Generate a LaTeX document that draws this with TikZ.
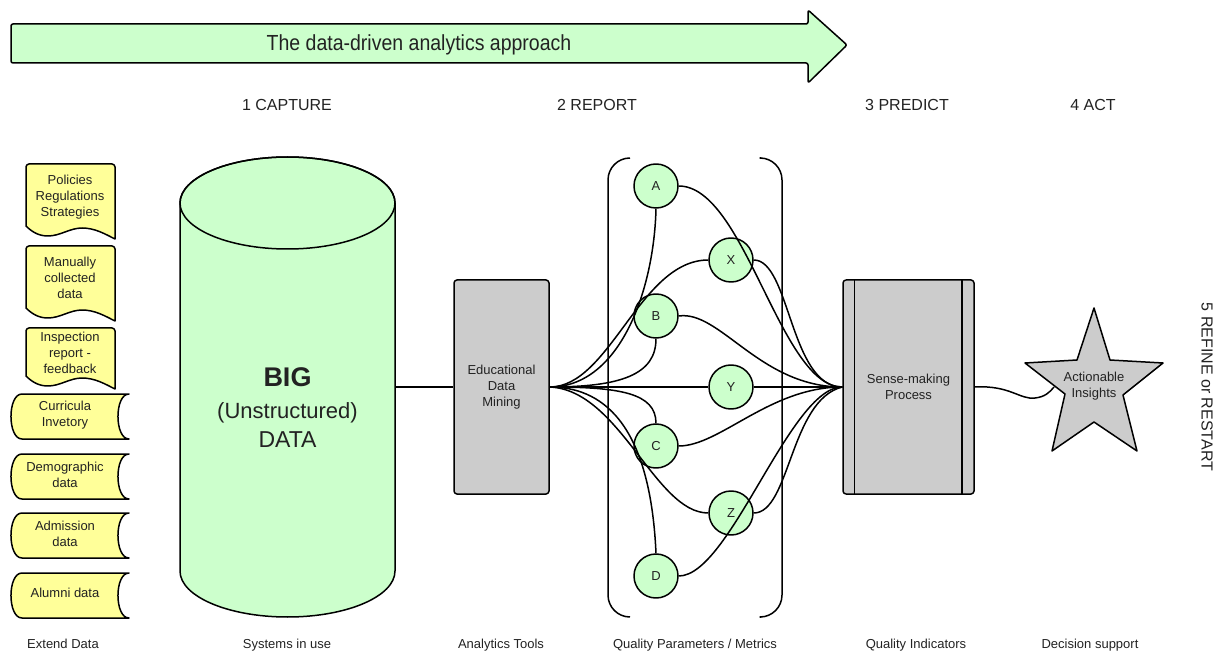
\documentclass[tikz,border=0pt]{standalone}
\usepackage{fontspec}
\setmainfont{Liberation Sans}
\definecolor{mint}{HTML}{CCFFCC}
\definecolor{lemon}{HTML}{FFFF99}
\definecolor{boxgrey}{HTML}{CCCCCC}
\definecolor{ink}{HTML}{222222}
\newcommand{\fs}[2]{\fontsize{#1}{#2}\selectfont}

\begin{document}
\begin{tikzpicture}[x=1pt, y=-1pt, line width=1.5pt, line join=round,
  stagelbl/.style={text=ink, font=\fs{16}{19}, inner sep=0, anchor=base},
  footlbl/.style={text=ink, font=\fs{13}{16}, inner sep=0, anchor=base},
  smalltxt/.style={text=ink, font=\fs{13}{16}, align=center, inner sep=0},
  procbox/.style={draw, fill=boxgrey, rounded corners=3, minimum width=95,
    minimum height=214, inner sep=0, text=ink, font=\fs{13}{16}, align=center},
  metric/.style={circle, draw, fill=mint, minimum size=44, inner sep=0,
    font=\fs{13}{16}, text=ink},
  link/.style={line width=1.5pt}]

\useasboundingbox (0,0) rectangle (1224,652);

% banner arrow
\draw[fill=mint, rounded corners=2] (11,24) -- (808,24) -- (808,10) -- (847,45)
  -- (808,83) -- (808,63) -- (11,63) -- cycle;
\node[text=ink, font=\fs{19.5}{22}, inner sep=0, anchor=base, yscale=1.12] (banner) at (419,51)
  {The data-driven analytics approach};

% stage headings
\node[stagelbl] (s1) at (287,111) {1 CAPTURE};
\node[stagelbl] (s2) at (597,111) {2 REPORT};
\node[stagelbl] (s3) at (907,111) {3 PREDICT};
\node[stagelbl] (s4) at (1093,111) {4 ACT};
\node[text=ink, font=\fs{16}{19}, inner sep=0, rotate=-90] (s5) at (1207,387)
  {5 REFINE or RESTART};

% footer captions
\node[footlbl] (f1) at (63,648) {Extend Data};
\node[footlbl] (f2) at (287,648) {Systems in use};
\node[footlbl] (f3) at (501,648) {Analytics Tools};
\node[footlbl] (f4) at (695,648) {Quality Parameters / Metrics};
\node[footlbl] (f5) at (916,648) {Quality Indicators};
\node[footlbl] (f6) at (1090,648) {Decision support};

% document sources
\foreach \tp/\bt in {164/226, 246/308, 328/376} {
  \draw[fill=lemon] (115,\bt+13) [rounded corners=3] -- (115,\tp) -- (26,\tp)
    [sharp corners] -- (26,\bt)
    .. controls (33,\bt+7) and (40,\bt+10) .. (48,\bt+10)
    .. controls (60,\bt+10) and (70,\bt+2) .. (82,\bt+2)
    .. controls (95,\bt+2) and (105,\bt+8) .. (115,\bt+13) -- cycle;
}
\node[smalltxt] (doc1) at (70,197) {Policies\\Regulations\\Strategies};
\node[smalltxt] (doc2) at (70,278) {Manually\\collected\\data};
\node[smalltxt] (doc3) at (70,353) {Inspection\\report -\\feedback};

% stored data sources
\foreach \tp in {394,454,513,573} {
  \draw[fill=lemon] (22,\tp) -- (129,\tp)
    .. controls (114.3,\tp) and (114.3,\tp+45) .. (129,\tp+45)
    -- (22,\tp+45)
    .. controls (7.3,\tp+45) and (7.3,\tp) .. (22,\tp) -- cycle;
}
\node[smalltxt] (st1) at (65,415) {Curricula\\Invetory};
\node[smalltxt] (st2) at (65,475) {Demographic\\data};
\node[smalltxt] (st3) at (65,534) {Admission\\data};
\node[smalltxt] (st4) at (65,593) {Alumni data};

% big data cylinder
\draw[fill=mint] (180,203) -- (180,571)
  arc[start angle=180, end angle=0, x radius=107.5, y radius=46]
  -- (395,203) arc[start angle=0, end angle=-180, x radius=107.5, y radius=46]
  -- cycle;
\draw (287.5,203) ellipse[x radius=107.5, y radius=46];
\node[text=ink, font=\bfseries\fs{27}{30}, inner sep=0, anchor=base] (big1) at (287.5,386) {BIG};
\node[text=ink, font=\fs{22}{26}, inner sep=0, anchor=base] (big2) at (287.5,418) {(Unstructured)};
\node[text=ink, font=\fs{23}{27}, inner sep=0, anchor=base] (big3) at (287.5,447) {DATA};
\coordinate (cylR) at (395,387);

% tools and processes
\node[procbox] (edm) at (501.5,387) {Educational\\Data\\Mining};
\node[procbox, minimum width=131] (sm) at (908.5,387) {Sense-making\\Process};
\draw ([xshift=12]sm.north west) -- ([xshift=12]sm.south west);
\draw ([xshift=-13]sm.north east) -- ([xshift=-13]sm.south east);

% metrics
\node[metric] (a) at (656,186) {A};
\node[metric] (x) at (731,260) {X};
\node[metric] (b) at (656,316) {B};
\node[metric] (y) at (731,387) {Y};
\node[metric] (c) at (656,446) {C};
\node[metric] (z) at (731,513) {Z};
\node[metric] (d) at (656,576) {D};

% brackets around the metrics
\draw[rounded corners=22] (630,158) -- (608,158) -- (608,617) -- (630,617);
\draw[rounded corners=22] (761,158) -- (782,158) -- (782,617) -- (761,617);

% connectors
\draw[link] (cylR) -- (edm.west);

\draw[link] (edm.east) .. controls (620,387) and (654,290) .. (a.south);
\draw[link] (edm.east) .. controls (610,387) and (640,260) .. (x.west);
\draw[link] (edm.east) .. controls (620,387) and (656,375) .. (b.south);
\draw[link] (edm.east) -- (y.west);
\draw[link] (edm.east) .. controls (620,387) and (656,393) .. (c.north);
\draw[link] (edm.east) .. controls (620,390) and (655,513) .. (z.west);
\draw[link] (edm.east) .. controls (600,387) and (650,420) .. (d.north);

\draw[link] (a.east) .. controls (745,186) and (780,387) .. (sm.west);
\draw[link] (x.east) .. controls (790,260) and (790,387) .. (sm.west);
\draw[link] (b.east) .. controls (720,310) and (760,387) .. (sm.west);
\draw[link] (y.east) -- (sm.west);
\draw[link] (c.east) .. controls (720,446) and (770,387) .. (sm.west);
\draw[link] (z.east) .. controls (790,513) and (790,400) .. (sm.west);
\draw[link] (d.east) .. controls (730,576) and (790,387) .. (sm.west);

% actionable insights star
\draw[fill=boxgrey] (1094,308) -- (1110,360) -- (1163,363) -- (1123,395)
  -- (1137,451) -- (1094,422) -- (1052,451) -- (1065,394) -- (1025,363)
  -- (1077,360) -- cycle;
\node[smalltxt] (act) at (1094,386) {Actionable\\Insights};
\coordinate (starin) at (1054,387);
\draw[link] (sm.east) .. controls (1010,385) and (1020,400) .. (1035,398)
  .. controls (1045,397) and (1050,392) .. (starin);

\end{tikzpicture}
\end{document}
